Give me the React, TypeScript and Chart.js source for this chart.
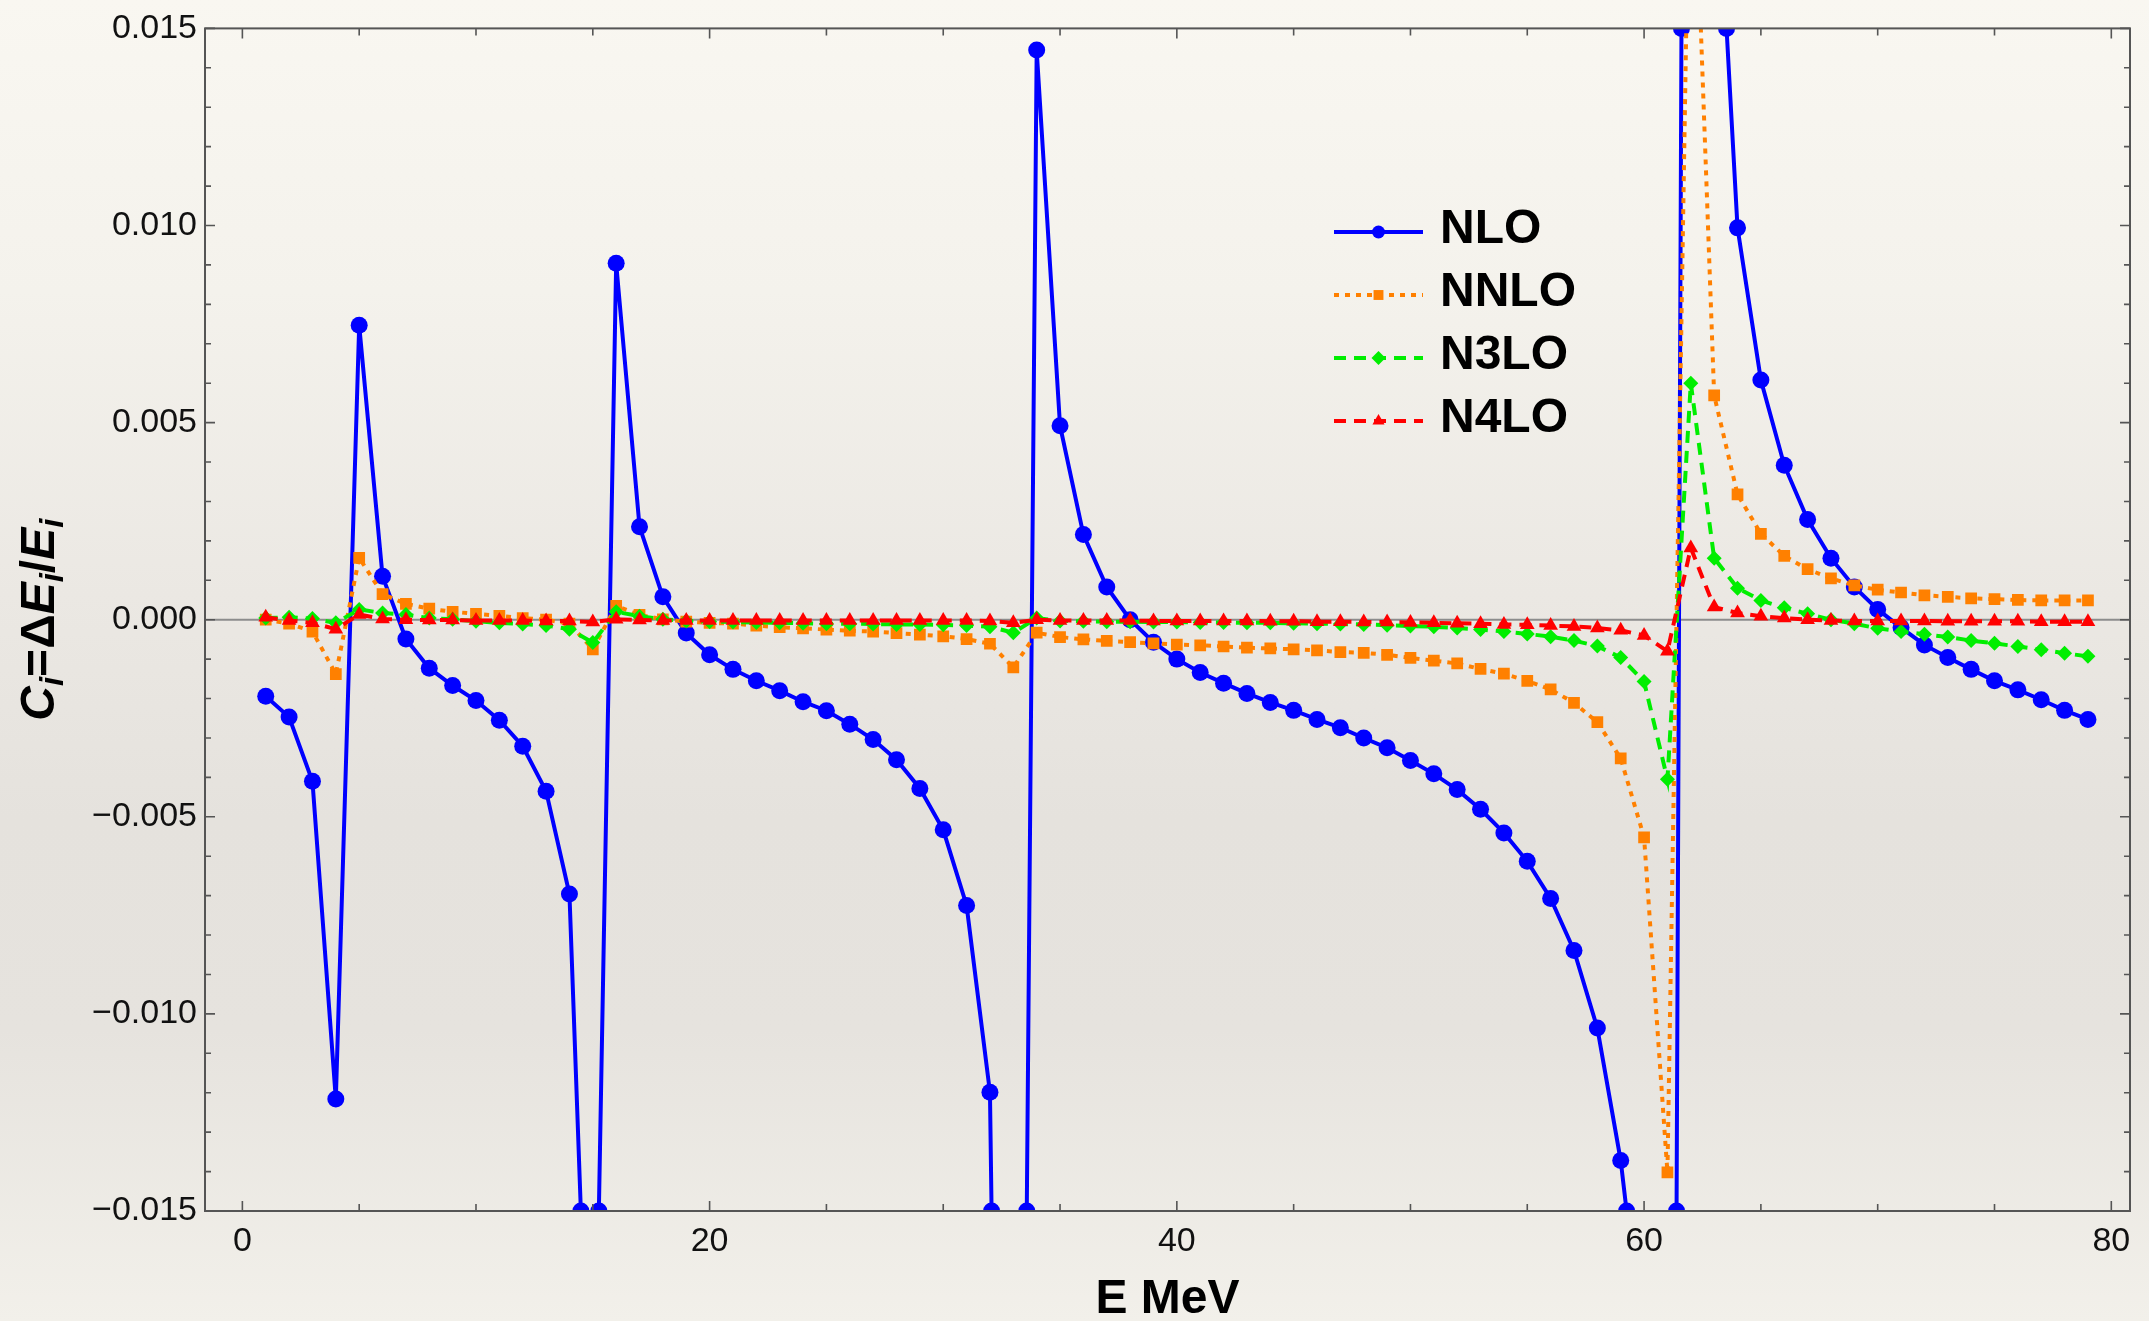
import React, { useEffect, useRef } from "react";
import { Chart, registerables } from "chart.js";

Chart.register(...registerables);

// ---------------- data ----------------
const E_MeV = [
  1, 2, 3, 4, 5, 6, 7, 8, 9, 10, 11, 12, 13, 14, 15, 16, 17, 18, 19, 20,
  21, 22, 23, 24, 25, 26, 27, 28, 29, 30, 31, 32, 33, 34, 35, 36, 37, 38, 39, 40,
  41, 42, 43, 44, 45, 46, 47, 48, 49, 50, 51, 52, 53, 54, 55, 56, 57, 58, 59, 60,
  61, 62, 63, 64, 65, 66, 67, 68, 69, 70, 71, 72, 73, 74, 75, 76, 77, 78, 79,
];

const NLO = [
  -0.00194, -0.00247, -0.0041, -0.01216, 0.00747, 0.0011, -0.00049, -0.00123, -0.00167, -0.00205,
  -0.00255, -0.00321, -0.00435, -0.00696, -0.0234, 0.00904, 0.00236, 0.00058, -0.00034, -0.00089,
  -0.00126, -0.00155, -0.0018, -0.00208, -0.00231, -0.00265, -0.00304, -0.00355, -0.00428, -0.00533,
  -0.00725, -0.01199, -0.055, 0.01445, 0.00492, 0.00216, 0.00083, 0.0, -0.00057, -0.001,
  -0.00134, -0.00161, -0.00187, -0.0021, -0.0023, -0.00253, -0.00274, -0.003, -0.00325, -0.00357,
  -0.00391, -0.00431, -0.00481, -0.00541, -0.00613, -0.00707, -0.00839, -0.01036, -0.01372, -0.0188,
  -0.0707, 0.072, 0.0207, 0.00994, 0.00608, 0.00392, 0.00254, 0.00156, 0.00083, 0.00026,
  -0.0002, -0.00064, -0.00096, -0.00126, -0.00155, -0.00178, -0.00203, -0.0023, -0.00253,
];

const NNLO = [
  0.0, -0.0001, -0.0003, -0.00138, 0.00157, 0.00065, 0.0004, 0.00028, 0.0002, 0.00015,
  0.0001, 0.00004, 0.0, -0.0001, -0.00075, 0.00035, 0.00012, 0.00001, -0.00005, -0.00008,
  -0.0001, -0.00015, -0.00019, -0.00022, -0.00025, -0.00028, -0.0003, -0.00034, -0.00038, -0.00042,
  -0.00049, -0.00061, -0.00121, -0.00033, -0.00044, -0.0005, -0.00054, -0.00057, -0.0006, -0.00063,
  -0.00065, -0.00068, -0.00071, -0.00073, -0.00075, -0.00078, -0.00082, -0.00084, -0.00089, -0.00097,
  -0.00104, -0.00111, -0.00125, -0.00137, -0.00155, -0.00177, -0.00211, -0.0026, -0.00352, -0.00552,
  -0.01402, 0.022, 0.00569, 0.00318, 0.00218, 0.00162, 0.00128, 0.00105, 0.00087, 0.00076,
  0.00069, 0.00062, 0.00058, 0.00054, 0.00052, 0.0005, 0.00049, 0.00049, 0.00049,
];

const N3LO = [
  0.00004, 0.00006, 0.00003, -0.00008, 0.00026, 0.00017, 0.00013, 0.00004, 0.00001, -0.00004,
  -0.00008, -0.00011, -0.00015, -0.00024, -0.00058, 0.0002, 0.00009, 0.00001, -0.00003, -0.00005,
  -0.00006, -0.00007, -0.00008, -0.00009, -0.0001, -0.0001, -0.00011, -0.00012, -0.00012, -0.00013,
  -0.00015, -0.00018, -0.00033, 0.00004, -0.00003, -0.00004, -0.00005, -0.00005, -0.00006, -0.00006,
  -0.00007, -0.00007, -0.00008, -0.00008, -0.00009, -0.0001, -0.00011, -0.00012, -0.00014, -0.00016,
  -0.00018, -0.00021, -0.00025, -0.0003, -0.00036, -0.00043, -0.00053, -0.00067, -0.00096, -0.00157,
  -0.00405, 0.006, 0.00156, 0.0008, 0.00049, 0.0003, 0.00015, 0.0, -0.0001, -0.00022,
  -0.0003, -0.00037, -0.00044, -0.00053, -0.0006, -0.00068, -0.00076, -0.00085, -0.00093,
];

const N4LO = [
  0.00006, -0.00002, -0.00008, -0.00024, 0.00013, 0.00002, 0.0, -0.00001, -0.00001, -0.00002,
  -0.00002, -0.00002, -0.00003, -0.00003, -0.00006, 0.00001, -0.00001, -0.00002, -0.00002, -0.00002,
  -0.00002, -0.00002, -0.00002, -0.00002, -0.00002, -0.00002, -0.00002, -0.00002, -0.00002, -0.00002,
  -0.00002, -0.00003, -0.00008, 0.0, -0.00002, -0.00002, -0.00002, -0.00002, -0.00003, -0.00003,
  -0.00003, -0.00003, -0.00003, -0.00004, -0.00004, -0.00005, -0.00005, -0.00006, -0.00006, -0.00007,
  -0.00008, -0.00009, -0.0001, -0.00012, -0.00013, -0.00015, -0.00017, -0.00021, -0.00027, -0.0004,
  -0.0008, 0.00182, 0.00032, 0.00017, 0.00009, 0.00004, 0.0, -0.00002, -0.00003, -0.00003,
  -0.00003, -0.00003, -0.00004, -0.00004, -0.00004, -0.00004, -0.00005, -0.00005, -0.00005,
];

const SERIES_LABELS = ["NLO", "NNLO", "N3LO", "N4LO"];
const X_TICK_VALUES = [0, 20, 40, 60, 80];
const Y_TICK_VALUES = [-0.015, -0.01, -0.005, 0, 0.005, 0.01, 0.015];

// ---------------- styles ----------------
const FONT = "'Liberation Sans', Arial, Helvetica, sans-serif";
const STYLES = [
  { color: "#0000ff", dash: [] as number[], point: "circle", r: 8.5, lr: 6.5 },
  { color: "#ff8000", dash: [5, 6], point: "rect", r: 8.3, lr: 7 },
  { color: "#00ee00", dash: [12, 8], point: "rectRot", r: 7.5, lr: 7 },
  { color: "#ff0000", dash: [12, 8], point: "triangle", r: 8.5, lr: 7 },
];

function drawMarker(ctx: CanvasRenderingContext2D, style: string, x: number, y: number, r: number) {
  ctx.beginPath();
  if (style === "circle") {
    ctx.arc(x, y, r, 0, Math.PI * 2);
  } else if (style === "rect") {
    const s = r * Math.SQRT1_2;
    ctx.rect(x - s, y - s, 2 * s, 2 * s);
  } else if (style === "rectRot") {
    ctx.moveTo(x, y - r);
    ctx.lineTo(x + r, y);
    ctx.lineTo(x, y + r);
    ctx.lineTo(x - r, y);
    ctx.closePath();
  } else {
    let a = 0;
    ctx.moveTo(x + Math.sin(a) * r, y - Math.cos(a) * r);
    a += (2 * Math.PI) / 3;
    ctx.lineTo(x + Math.sin(a) * r, y - Math.cos(a) * r);
    a += (2 * Math.PI) / 3;
    ctx.lineTo(x + Math.sin(a) * r, y - Math.cos(a) * r);
    ctx.closePath();
  }
  ctx.fill();
}

const fmtY = (v: number) => {
  const s = Math.abs(v).toFixed(3);
  return v < -1e-9 ? "\u2212" + s : s;
};

// zero line (Mathematica axis)
const zeroLinePlugin = {
  id: "zeroLine",
  beforeDatasetsDraw(chart: any) {
    const { ctx, chartArea } = chart;
    const y = chart.scales.y.getPixelForValue(0);
    ctx.save();
    ctx.strokeStyle = "#8c8c8c";
    ctx.lineWidth = 2;
    ctx.beginPath();
    ctx.moveTo(chartArea.left, y);
    ctx.lineTo(chartArea.right, y);
    ctx.stroke();
    ctx.restore();
  },
};

// markers where the NLO curve leaves/enters the plot range (clipped)
const boundaryMarkerPlugin = {
  id: "boundaryMarkers",
  afterDatasetDraw(chart: any, args: any) {
    if (args.index !== 0) return;
    const { ctx, chartArea } = chart;
    const pts = args.meta.data;
    const { top, bottom, left, right } = chartArea;
    ctx.save();
    ctx.beginPath();
    ctx.rect(left, top, right - left, bottom - top);
    ctx.clip();
    ctx.fillStyle = STYLES[0].color;
    for (let i = 0; i < pts.length - 1; i++) {
      const p = pts[i];
      const q = pts[i + 1];
      for (const b of [top, bottom]) {
        if ((p.y - b) * (q.y - b) < 0) {
          const t = (b - p.y) / (q.y - p.y);
          const x = p.x + t * (q.x - p.x);
          drawMarker(ctx, "circle", x, b, STYLES[0].r);
        }
      }
    }
    ctx.restore();
  },
};

// Mathematica-style frame with inward ticks
const framePlugin = {
  id: "frame",
  afterDatasetsDraw(chart: any) {
    const { ctx, chartArea } = chart;
    const { top, bottom, left, right } = chartArea;
    const xs = chart.scales.x;
    const ys = chart.scales.y;
    ctx.save();
    ctx.strokeStyle = "#555555";
    ctx.lineWidth = 2;
    ctx.strokeRect(left, top, right - left, bottom - top);
    ctx.lineWidth = 1.6;
    ctx.beginPath();
    for (let v = 0; v <= 80; v += 5) {
      const px = xs.getPixelForValue(v);
      const len = v % 20 === 0 ? 10 : 7;
      ctx.moveTo(px, bottom);
      ctx.lineTo(px, bottom - len);
      ctx.moveTo(px, top);
      ctx.lineTo(px, top + len);
    }
    for (let k = -15; k <= 15; k++) {
      const py = ys.getPixelForValue(k / 1000);
      const len = k % 5 === 0 ? 10 : 6;
      ctx.moveTo(left, py);
      ctx.lineTo(left + len, py);
      ctx.moveTo(right, py);
      ctx.lineTo(right - len, py);
    }
    ctx.stroke();
    ctx.restore();
  },
};

// legend + axis titles
const annotationPlugin = {
  id: "annotations",
  afterDraw(chart: any) {
    const { ctx, chartArea } = chart;
    ctx.save();
    // legend
    const rows = [232, 295, 358, 421];
    const x0 = 1334;
    const x1 = 1423;
    SERIES_LABELS.forEach((label, i) => {
      const st = STYLES[i];
      const y = rows[i];
      ctx.strokeStyle = st.color;
      ctx.fillStyle = st.color;
      ctx.lineWidth = 4;
      ctx.setLineDash(st.dash);
      ctx.beginPath();
      ctx.moveTo(x0, y);
      ctx.lineTo(x1, y);
      ctx.stroke();
      ctx.setLineDash([]);
      drawMarker(ctx, st.point, (x0 + x1) / 2, y, st.lr);
      ctx.fillStyle = "#000000";
      ctx.font = `bold 48px ${FONT}`;
      ctx.textAlign = "left";
      ctx.textBaseline = "alphabetic";
      ctx.fillText(label, 1440, y + 11);
    });

    // x title
    ctx.fillStyle = "#000000";
    ctx.font = `bold 48px ${FONT}`;
    ctx.textAlign = "center";
    ctx.textBaseline = "alphabetic";
    ctx.fillText("E MeV", (chartArea.left + chartArea.right) / 2, 1313);

    // y title: C_i = ΔE_i / E_i
    const parts = [
      { t: "C", sub: false, it: true },
      { t: "i", sub: true, it: true },
      { t: "=\u0394", sub: false, it: false },
      { t: "E", sub: false, it: true },
      { t: "i", sub: true, it: true },
      { t: "/", sub: false, it: false },
      { t: "E", sub: false, it: true },
      { t: "i", sub: true, it: true },
    ];
    const fontFor = (p: any) =>
      `${p.it ? "italic " : ""}bold ${p.sub ? 33 : 48}px ${FONT}`;
    let total = 0;
    const widths = parts.map((p) => {
      ctx.font = fontFor(p);
      const w = ctx.measureText(p.t).width;
      total += w;
      return w;
    });
    ctx.translate(54, (chartArea.top + chartArea.bottom) / 2);
    ctx.rotate(-Math.PI / 2);
    ctx.textAlign = "left";
    let cx = -total / 2;
    parts.forEach((p, i) => {
      ctx.font = fontFor(p);
      ctx.fillText(p.t, cx, p.sub ? 9 : 0);
      cx += widths[i];
    });
    ctx.restore();
  },
};

export default function App() {
  const canvasRef = useRef<HTMLCanvasElement | null>(null);

  useEffect(() => {
    if (!canvasRef.current) return;
    const series = [NLO, NNLO, N3LO, N4LO];
    const datasets = series.map((vals, i) => {
      const st = STYLES[i];
      return {
        label: SERIES_LABELS[i],
        data: E_MeV.map((x, j) => ({ x, y: vals[j] })),
        borderColor: st.color,
        backgroundColor: st.color,
        borderWidth: 4,
        borderDash: st.dash,
        borderCapStyle: "butt" as const,
        tension: 0,
        fill: false,
        pointStyle: st.point as any,
        pointRadius: st.r,
        pointHoverRadius: st.r,
        pointBorderWidth: 0,
        pointBackgroundColor: st.color,
        order: 4 - i,
        clip: 0,
      };
    });

    const tickFont = { family: FONT, size: 34 };
    const chart = new Chart(canvasRef.current, {
      type: "line",
      data: { datasets },
      options: {
        animation: false,
        responsive: false,
        devicePixelRatio: 1,
        events: [],
        layout: { padding: { left: 0, right: 19, top: 25, bottom: 0 } },
        plugins: {
          legend: { display: false },
          tooltip: { enabled: false },
        },
        scales: {
          x: {
            type: "linear",
            min: -1.6,
            max: 80.8,
            afterBuildTicks: (s: any) => {
              s.ticks = X_TICK_VALUES.map((v) => ({ value: v }));
            },
            afterFit: (s: any) => {
              s.height = 110;
            },
            grid: { display: false, drawTicks: false },
            border: { display: false },
            ticks: {
              font: tickFont,
              color: "#111111",
              padding: 10,
              maxRotation: 0,
              autoSkip: false,
              callback: (v: any) => String(v),
            },
          },
          y: {
            type: "linear",
            min: -0.015,
            max: 0.015,
            afterBuildTicks: (s: any) => {
              s.ticks = Y_TICK_VALUES.map((v) => ({ value: v }));
            },
            afterFit: (s: any) => {
              s.width = 205;
            },
            grid: { display: false, drawTicks: false },
            border: { display: false },
            ticks: {
              font: tickFont,
              color: "#111111",
              padding: 8,
              autoSkip: false,
              callback: (v: any) => fmtY(Number(v)),
            },
          },
        },
      },
      plugins: [zeroLinePlugin, boundaryMarkerPlugin, framePlugin, annotationPlugin],
    } as any);
    return () => chart.destroy();
  }, []);

  return (
    <div
      style={{
        position: "fixed",
        left: 0,
        top: 0,
        width: 2149,
        height: 1321,
        background:
          "linear-gradient(to bottom, #f9f7f1 0%, #f4f2ec 22%, #ebe8e3 45%, #e5e2dd 62%, #e6e3de 78%, #f2f0ea 100%)",
      }}
    >
      <canvas ref={canvasRef} width={2149} height={1321} style={{ display: "block" }} />
    </div>
  );
}
